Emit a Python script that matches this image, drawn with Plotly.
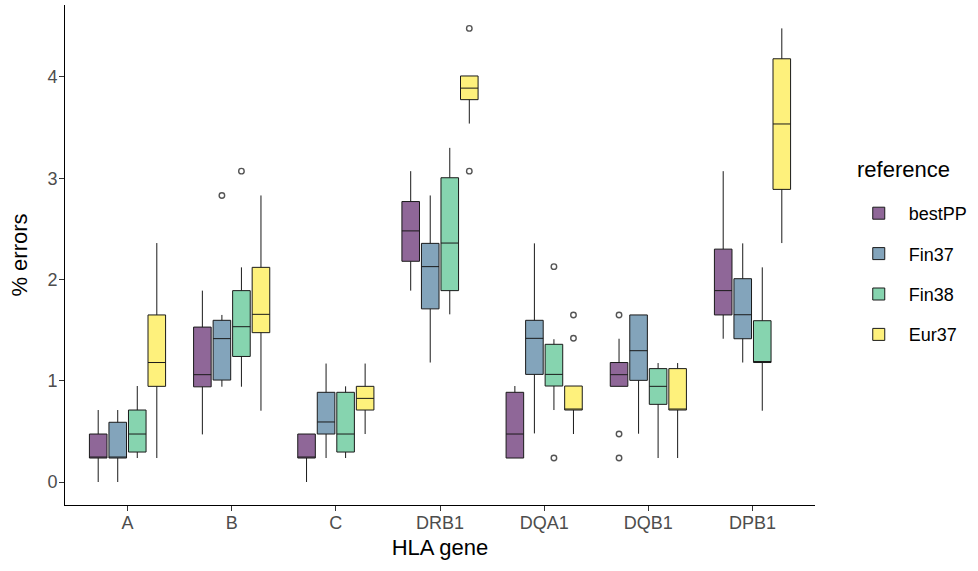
import plotly.graph_objects as go

genes = ["A", "B", "C", "DRB1", "DQA1", "DQB1", "DPB1"]
references = ["bestPP", "Fin37", "Fin38", "Eur37"]

# box statistics per reference, in gene order
bestPP_q1 = [0.237, 0.94, 0.237, 2.18, 0.237, 0.945, 1.65]
bestPP_med = [0.237, 1.06, 0.237, 2.48, 0.474, 1.06, 1.89]
bestPP_q3 = [0.474, 1.53, 0.474, 2.77, 0.886, 1.18, 2.30]
bestPP_lo = [0.0, 0.47, 0.0, 1.89, 0.237, 0.945, 1.415]
bestPP_hi = [0.711, 1.89, 0.474, 3.07, 0.948, 1.415, 3.07]
bestPP_out_gene = ["DQB1", "DQB1", "DQB1"]
bestPP_out_val = [1.65, 0.474, 0.237]

Fin37_q1 = [0.237, 1.007, 0.474, 1.71, 1.063, 1.004, 1.415]
Fin37_med = [0.237, 1.416, 0.593, 2.127, 1.419, 1.297, 1.652]
Fin37_q3 = [0.59, 1.597, 0.886, 2.357, 1.597, 1.65, 2.008]
Fin37_lo = [0.0, 0.941, 0.237, 1.18, 0.48, 0.477, 1.18]
Fin37_hi = [0.711, 1.65, 1.17, 2.83, 2.357, 1.65, 2.357]
Fin37_out_gene = ["B"]
Fin37_out_val = [2.83]

Fin38_q1 = [0.296, 1.24, 0.296, 1.89, 0.948, 0.767, 1.18]
Fin38_med = [0.474, 1.534, 0.474, 2.36, 1.063, 0.945, 1.18]
Fin38_q3 = [0.711, 1.89, 0.886, 3.005, 1.36, 1.12, 1.593]
Fin38_lo = [0.237, 0.941, 0.237, 1.656, 0.711, 0.237, 0.704]
Fin38_hi = [0.948, 2.12, 0.945, 3.30, 1.41, 1.175, 2.12]
Fin38_out_gene = ["B", "DQA1", "DQA1"]
Fin38_out_val = [3.07, 2.127, 0.237]

Eur37_q1 = [0.945, 1.475, 0.711, 3.776, 0.711, 0.711, 2.89]
Eur37_med = [1.18, 1.656, 0.826, 3.89, 0.711, 0.711, 3.536]
Eur37_q3 = [1.65, 2.12, 0.945, 4.01, 0.948, 1.12, 4.18]
Eur37_lo = [0.237, 0.704, 0.474, 3.54, 0.474, 0.237, 2.36]
Eur37_hi = [2.36, 2.83, 1.17, 4.01, 0.948, 1.175, 4.48]
Eur37_out_gene = ["DRB1", "DRB1", "DQA1", "DQA1"]
Eur37_out_val = [4.48, 3.07, 1.65, 1.42]

stats = {
    "bestPP": (bestPP_q1, bestPP_med, bestPP_q3, bestPP_lo, bestPP_hi, bestPP_out_gene, bestPP_out_val),
    "Fin37": (Fin37_q1, Fin37_med, Fin37_q3, Fin37_lo, Fin37_hi, Fin37_out_gene, Fin37_out_val),
    "Fin38": (Fin38_q1, Fin38_med, Fin38_q3, Fin38_lo, Fin38_hi, Fin38_out_gene, Fin38_out_val),
    "Eur37": (Eur37_q1, Eur37_med, Eur37_q3, Eur37_lo, Eur37_hi, Eur37_out_gene, Eur37_out_val),
}

fill_colors = ["rgba(68,1,84,0.6)", "rgba(49,104,142,0.6)",
               "rgba(53,183,121,0.6)", "rgba(253,231,37,0.6)"]

dodge = 0.75
slot = dodge / len(references)
box_w = slot * 0.9

fig = go.Figure()
gene_pos = {g: i + 1 for i, g in enumerate(genes)}

for k, ref in enumerate(references):
    q1, med, q3, lo, hi, og, ov = stats[ref]
    off = (k - (len(references) - 1) / 2) * slot
    xs = [gene_pos[g] + off for g in genes]
    fig.add_trace(go.Box(
        x=xs, q1=q1, median=med, q3=q3, lowerfence=lo, upperfence=hi,
        name=ref, width=box_w, boxpoints=False, whiskerwidth=0,
        fillcolor=fill_colors[k],
        line=dict(color="#1a1a1a", width=1),
        legendgroup=ref, showlegend=True,
    ))
    fig.add_trace(go.Scatter(
        x=[gene_pos[g] + off for g in og], y=ov, mode="markers",
        marker=dict(symbol="circle-open", size=5.5, color="#555555",
                    line=dict(width=1.4, color="#555555")),
        showlegend=False, legendgroup=ref, hoverinfo="skip",
    ))

FONT = "Liberation Sans, Arial, sans-serif"
fig.update_layout(
    width=978, height=571,
    plot_bgcolor="white", paper_bgcolor="white",
    margin=dict(l=65, r=160, t=5, b=66),
    font=dict(family=FONT, size=18, color="#000000"),
    xaxis=dict(
        range=[0.4, 7.6], tickmode="array", tickvals=list(range(1, len(genes) + 1)),
        ticktext=genes, showgrid=False, zeroline=False, automargin=False,
        showline=True, linecolor="#000000", linewidth=1,
        ticks="outside", ticklen=5, tickcolor="#333333",
        tickfont=dict(size=18, color="#4d4d4d"), ticklabelstandoff=-4,
        title=dict(text="HLA gene", font=dict(size=22, color="#000000"), standoff=8),
    ),
    yaxis=dict(
        range=[-0.227, 4.711], tickvals=[0, 1, 2, 3, 4],
        showgrid=False, zeroline=False, automargin=False,
        showline=True, linecolor="#000000", linewidth=1,
        ticks="outside", ticklen=5, tickcolor="#333333",
        tickfont=dict(size=18, color="#4d4d4d"), ticklabelstandoff=-2,
        title=dict(text="% errors", font=dict(size=22, color="#000000"), standoff=13),
    ),
    legend=dict(
        x=1.045, y=0.62, xanchor="left", yanchor="top",
        font=dict(size=18), tracegroupgap=14, itemwidth=50,
        bgcolor="rgba(0,0,0,0)",
    ),
    annotations=[dict(
        text="reference", x=1.053, y=0.67, xref="paper", yref="paper",
        xanchor="left", yanchor="middle", showarrow=False,
        font=dict(family=FONT, size=22, color="#000000"),
    )],
    showlegend=True,
)

fig.write_html("out.html", config={"displayModeBar": False},
               post_script="document.body.style.margin='0px';")
